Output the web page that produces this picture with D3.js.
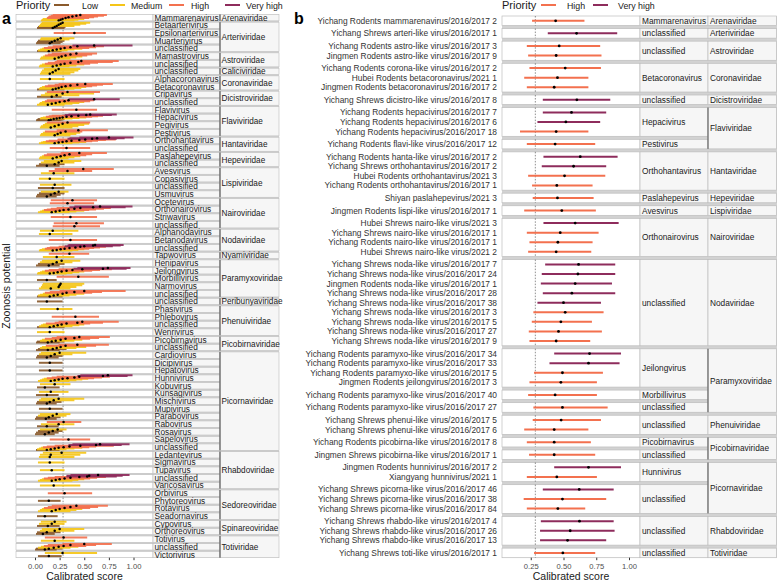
<!DOCTYPE html>
<html>
<head>
<meta charset="utf-8">
<script src="https://cdn.jsdelivr.net/npm/d3@7"></script>
<style>
  body { margin: 0; background: #fff; }
  svg { font-family: "Liberation Sans", Arial, sans-serif; }
</style>
</head>
<body>
<svg width="777" height="582"></svg>
<script>
/* Data */

var priorities = ["Low", "Medium", "High", "Very high"];
var priorityColors = ["#8a5a2c", "#f5c518", "#f3714f", "#8e2c5c"];
var ticks = [0, 0.25, 0.5, 0.75, 1];
var threshold = 0.285;

// panel a: families with their number of genera
var familyA = [
  ["Arenaviridae", 1], ["Arteriviridae", 4], ["Astroviridae", 2], ["Caliciviridae", 1],
  ["Coronaviridae", 2], ["Dicistroviridae", 2], ["Flaviviridae", 4], ["Hantaviridae", 2],
  ["Hepeviridae", 2], ["Lispiviridae", 4], ["Nairoviridae", 4], ["Nodaviridae", 3],
  ["Nyamiviridae", 1], ["Paramyxoviridae", 5], ["Peribunyaviridae", 1], ["Phenuiviridae", 4],
  ["Picobirnaviridae", 2], ["Picornaviridae", 13], ["Rhabdoviridae", 5], ["Sedoreoviridae", 4],
  ["Spinareoviridae", 2], ["Totiviridae", 3]
];

var genusA = [
  "Mammarenavirus", "Betaarterivirus", "Epsilonarterivirus", "Muarterivirus", "unclassified",
  "Mamastrovirus", "unclassified", "unclassified", "Alphacoronavirus", "Betacoronavirus",
  "Cripavirus", "unclassified", "Flavivirus", "Hepacivirus", "Pegivirus", "Pestivirus",
  "Orthohantavirus", "unclassified", "Paslahepevirus", "unclassified", "Avesvirus",
  "Copasivirus", "unclassified", "Usmuvirus", "Ocetevirus", "Orthonairovirus", "Striwavirus",
  "unclassified", "Alphanodavirus", "Betanodavirus", "unclassified", "Tapwovirus",
  "Henipavirus", "Jeilongvirus", "Morbillivirus", "Narmovirus", "unclassified", "unclassified",
  "Phasivirus", "Phlebovirus", "unclassified", "Wenrivirus", "Picobirnavirus", "unclassified",
  "Cardiovirus", "Dicipivirus", "Hepatovirus", "Hunnivirus", "Kobuvirus", "Kunsagivirus",
  "Mischivirus", "Mupivirus", "Parabovirus", "Rabovirus", "Rosavirus", "Sapelovirus",
  "unclassified", "Ledantevirus", "Sigmavirus", "Tupavirus", "unclassified", "Varicosavirus",
  "Orbivirus", "Phytoreovirus", "Rotavirus", "Seadornavirus", "Cypovirus", "Orthoreovirus",
  "Totivirus", "unclassified", "Victorivirus"
];

// per genus: [score, lower, upper, priority]
var scoresA = [
  [[0.24,0.06,0.40,1],[0.26,0.07,0.44,1],[0.28,0.08,0.50,1],[0.31,0.12,0.55,2],[0.34,0.13,0.60,2],[0.38,0.14,0.64,2],[0.42,0.16,0.70,2],[0.46,0.18,0.73,2]],
  [[0.18,0.02,0.30,0],[0.20,0.03,0.31,0],[0.22,0.04,0.40,1],[0.24,0.05,0.46,1],[0.26,0.06,0.52,1],[0.28,0.07,0.56,1]],
  [[0.40,0.19,0.72,2]],
  [[0.15,0.01,0.26,0],[0.17,0.02,0.28,0],[0.20,0.03,0.30,0],[0.23,0.05,0.35,1],[0.26,0.06,0.40,1]],
  [[0.14,0.02,0.27,0],[0.18,0.03,0.33,1],[0.22,0.05,0.40,1],[0.26,0.07,0.48,1],[0.30,0.09,0.55,2],[0.36,0.13,0.62,2],[0.43,0.18,0.70,2],[0.60,0.38,0.99,3]],
  [[0.20,0.05,0.36,1],[0.24,0.06,0.42,1],[0.27,0.08,0.48,1],[0.31,0.10,0.53,2],[0.36,0.13,0.58,2],[0.42,0.17,0.63,2]],
  [[0.18,0.04,0.35,1],[0.22,0.05,0.42,1],[0.26,0.07,0.50,1],[0.30,0.10,0.56,2],[0.36,0.13,0.64,2],[0.44,0.20,0.79,2],[0.47,0.22,0.85,2]],
  [[0.15,0.05,0.36,1],[0.18,0.06,0.40,1],[0.21,0.07,0.44,1],[0.24,0.09,0.46,1]],
  [[0.15,0.05,0.30,1]],
  [[0.18,0.02,0.30,0],[0.21,0.04,0.40,1],[0.24,0.05,0.47,1],[0.27,0.07,0.52,1],[0.31,0.10,0.58,2],[0.36,0.13,0.63,2],[0.43,0.20,0.69,2],[0.51,0.24,0.79,2]],
  [[0.17,0.02,0.27,0],[0.22,0.06,0.45,1],[0.28,0.10,0.60,1],[0.33,0.12,0.66,2]],
  [[0.13,0.02,0.30,1],[0.17,0.04,0.38,1],[0.21,0.05,0.45,1],[0.25,0.07,0.50,1],[0.30,0.10,0.56,2],[0.34,0.12,0.60,2],[0.60,0.34,0.86,3]],
  [[0.42,0.17,0.63,2]],
  [[0.14,0.01,0.26,0],[0.16,0.02,0.28,0],[0.19,0.03,0.30,0],[0.22,0.05,0.38,1],[0.25,0.06,0.45,1],[0.28,0.08,0.52,1],[0.32,0.11,0.58,2],[0.37,0.14,0.64,2],[0.44,0.17,0.69,2],[0.52,0.30,0.78,3],[0.56,0.34,0.83,3]],
  [[0.16,0.05,0.38,1],[0.20,0.06,0.44,1],[0.24,0.08,0.50,1],[0.28,0.10,0.55,1],[0.33,0.12,0.56,2]],
  [[0.20,0.05,0.36,1],[0.23,0.06,0.42,1],[0.26,0.08,0.46,1],[0.31,0.10,0.48,2],[0.44,0.22,0.74,2]],
  [[0.20,0.04,0.38,1],[0.24,0.06,0.45,1],[0.28,0.08,0.52,1],[0.32,0.11,0.58,2],[0.37,0.14,0.64,2],[0.45,0.23,0.72,2],[0.51,0.23,0.82,2],[0.58,0.33,0.83,3],[0.63,0.35,0.91,3],[0.75,0.45,1.00,3]],
  [[0.32,0.15,0.56,2]],
  [[0.18,0.04,0.34,1],[0.22,0.05,0.40,1],[0.26,0.07,0.46,1],[0.30,0.09,0.52,2],[0.35,0.12,0.58,2],[0.45,0.26,0.73,2]],
  [[0.12,0.01,0.25,0],[0.20,0.04,0.30,0],[0.24,0.06,0.40,1],[0.27,0.09,0.47,1]],
  [[0.19,0.06,0.40,1],[0.33,0.14,0.58,2],[0.49,0.20,0.80,2]],
  [[0.15,0.04,0.30,1]],
  [[0.18,0.03,0.30,0],[0.20,0.05,0.37,1]],
  [[0.12,0.01,0.22,0],[0.16,0.02,0.26,0],[0.20,0.04,0.30,0],[0.24,0.06,0.34,1]],
  [[0.33,0.15,0.60,2],[0.38,0.16,0.63,2]],
  [[0.17,0.03,0.35,1],[0.21,0.05,0.42,1],[0.25,0.07,0.50,1],[0.29,0.09,0.55,2],[0.34,0.12,0.62,2],[0.40,0.16,0.70,2],[0.46,0.22,0.77,2],[0.59,0.35,0.92,3],[0.66,0.40,0.99,3]],
  [[0.36,0.16,0.63,2]],
  [[0.40,0.18,0.66,2],[0.42,0.19,0.70,2]],
  [[0.15,0.04,0.38,1],[0.18,0.05,0.44,1]],
  [[0.36,0.14,0.63,2]],
  [[0.18,0.04,0.38,1],[0.22,0.05,0.44,1],[0.26,0.07,0.50,1],[0.30,0.10,0.55,2],[0.35,0.12,0.60,2],[0.41,0.15,0.66,2],[0.46,0.24,0.72,2],[0.50,0.30,0.79,3],[0.59,0.33,0.87,3],[0.61,0.34,0.90,3]],
  [[0.22,0.08,0.40,1],[0.35,0.14,0.55,2]],
  [[0.14,0.01,0.25,0],[0.18,0.03,0.30,0],[0.22,0.05,0.38,1],[0.27,0.07,0.46,1]],
  [[0.15,0.02,0.32,1],[0.19,0.03,0.38,1],[0.23,0.05,0.45,1],[0.27,0.07,0.50,1],[0.32,0.10,0.58,2],[0.38,0.14,0.66,2],[0.48,0.24,0.78,2],[0.69,0.39,0.93,3],[0.74,0.43,0.97,3]],
  [[0.12,0.02,0.22,0],[0.44,0.22,0.75,2]],
  [[0.16,0.04,0.36,1],[0.24,0.06,0.42,1],[0.25,0.07,0.48,1],[0.26,0.08,0.50,1]],
  [[0.15,0.02,0.28,0],[0.19,0.03,0.35,1],[0.23,0.05,0.42,1],[0.28,0.08,0.50,1],[0.32,0.10,0.58,2],[0.40,0.15,0.68,2],[0.50,0.25,0.92,2]],
  [[0.12,0.02,0.28,0]],
  [[0.23,0.05,0.38,1]],
  [[0.41,0.17,0.65,2]],
  [[0.15,0.02,0.30,0],[0.19,0.04,0.38,1],[0.23,0.06,0.45,1],[0.27,0.08,0.50,1],[0.32,0.11,0.56,2],[0.43,0.20,0.69,2],[0.48,0.24,0.85,2]],
  [[0.15,0.02,0.30,1]],
  [[0.13,0.01,0.25,0],[0.17,0.02,0.30,0],[0.21,0.05,0.40,1],[0.26,0.07,0.48,1],[0.31,0.10,0.56,2],[0.40,0.17,0.65,2],[0.45,0.22,0.76,2]],
  [[0.13,0.01,0.25,0],[0.18,0.03,0.32,0],[0.22,0.05,0.42,1],[0.26,0.07,0.52,1],[0.31,0.11,0.62,2],[0.43,0.24,0.75,2]],
  [[0.12,0.01,0.24,0],[0.16,0.02,0.28,0],[0.20,0.04,0.38,1],[0.25,0.06,0.52,1]],
  [[0.15,0.04,0.28,0]],
  [[0.15,0.04,0.28,0]],
  [[0.16,0.03,0.35,1],[0.20,0.05,0.42,1],[0.24,0.07,0.48,1],[0.28,0.09,0.54,1],[0.33,0.12,0.60,2],[0.40,0.17,0.68,2],[0.45,0.22,0.76,2],[0.69,0.43,0.94,3],[0.74,0.46,0.99,3]],
  [[0.10,0.02,0.25,0],[0.20,0.05,0.36,1]],
  [[0.12,0.01,0.24,0],[0.16,0.04,0.34,1]],
  [[0.12,0.01,0.22,0],[0.15,0.02,0.27,0],[0.19,0.04,0.40,1],[0.24,0.06,0.50,1]],
  [[0.15,0.04,0.28,0]],
  [[0.11,0.00,0.22,0],[0.14,0.01,0.26,0],[0.18,0.03,0.32,1],[0.22,0.05,0.36,1]],
  [[0.12,0.02,0.24,0],[0.24,0.06,0.40,1],[0.29,0.12,0.47,2]],
  [[0.10,0.00,0.20,0],[0.14,0.01,0.24,0],[0.18,0.03,0.28,0],[0.23,0.05,0.32,1]],
  [[0.34,0.15,0.56,2]],
  [[0.12,0.01,0.25,0],[0.16,0.02,0.32,1],[0.20,0.04,0.40,1],[0.24,0.06,0.48,1],[0.29,0.08,0.55,2],[0.35,0.12,0.62,2],[0.46,0.20,0.80,2],[0.62,0.34,0.88,3],[0.66,0.38,0.96,3]],
  [[0.15,0.04,0.40,1],[0.16,0.05,0.46,1],[0.27,0.08,0.52,1]],
  [[0.15,0.03,0.30,1]],
  [[0.17,0.05,0.30,1]],
  [[0.17,0.03,0.38,1],[0.21,0.05,0.44,1],[0.25,0.07,0.50,1],[0.30,0.09,0.56,2],[0.36,0.13,0.63,2],[0.45,0.20,0.72,2],[0.53,0.32,0.83,3],[0.55,0.32,0.89,3],[0.64,0.36,0.96,3]],
  [[0.19,0.05,0.46,1]],
  [[0.30,0.13,0.58,2]],
  [[0.14,0.03,0.26,0]],
  [[0.17,0.03,0.36,1],[0.21,0.05,0.42,1],[0.25,0.07,0.48,1],[0.30,0.09,0.56,2],[0.36,0.13,0.64,2],[0.42,0.17,0.74,2]],
  [[0.10,0.02,0.23,0]],
  [[0.13,0.02,0.25,0],[0.17,0.04,0.30,1],[0.20,0.06,0.32,1]],
  [[0.08,0.01,0.20,0],[0.12,0.02,0.26,0],[0.20,0.05,0.40,1],[0.25,0.07,0.50,1]],
  [[0.20,0.06,0.40,1],[0.29,0.10,0.53,2]],
  [[0.10,0.00,0.22,0],[0.14,0.01,0.28,0],[0.19,0.03,0.36,1],[0.24,0.06,0.44,1],[0.29,0.09,0.52,2],[0.36,0.13,0.62,2],[0.50,0.28,0.78,2]],
  [[0.14,0.03,0.27,0],[0.28,0.10,0.63,1]]
];

// panel b: genus panels [genus, family, number of viruses]
var groupsB = [
  ["Mammarenavirus", "Arenaviridae", 1], ["unclassified", "Arteriviridae", 1],
  ["unclassified", "Astroviridae", 2], ["Betacoronavirus", "Coronaviridae", 3],
  ["unclassified", "Dicistroviridae", 1], ["Hepacivirus", "Flaviviridae", 3],
  ["Pestivirus", "Flaviviridae", 1], ["Orthohantavirus", "Hantaviridae", 4],
  ["Paslahepevirus", "Hepeviridae", 1], ["Avesvirus", "Lispiviridae", 1],
  ["Orthonairovirus", "Nairoviridae", 4], ["unclassified", "Nodaviridae", 9],
  ["Jeilongvirus", "Paramyxoviridae", 4], ["Morbillivirus", "Paramyxoviridae", 1],
  ["unclassified", "Paramyxoviridae", 1], ["unclassified", "Phenuiviridae", 2],
  ["Picobirnavirus", "Picobirnaviridae", 1], ["unclassified", "Picobirnaviridae", 1],
  ["Hunnivirus", "Picornaviridae", 2], ["unclassified", "Picornaviridae", 3],
  ["unclassified", "Rhabdoviridae", 3], ["unclassified", "Totiviridae", 1]
];

var virusesB = [
  "Yichang Rodents mammarenavirus/2016/2017 2", "Yichang Shrews arteri-like virus/2016/2017 1",
  "Yichang Rodents astro-like virus/2016/2017 3", "Jingmen Rodents astro-like virus/2016/2017 9",
  "Yichang Rodents corona-like virus/2016/2017 2", "Hubei Rodents betacoronavirus/2021 1",
  "Jingmen Rodents betacoronavirus/2016/2017 2", "Yichang Shrews dicistro-like virus/2016/2017 8",
  "Yichang Rodents hepacivirus/2016/2017 7", "Yichang Rodents hepacivirus/2016/2017 6",
  "Yichang Rodents hepacivirus/2016/2017 18", "Yichang Rodents flavi-like virus/2016/2017 12",
  "Yichang Rodents hanta-like virus/2016/2017 2", "Yichang Shrews orthohantavirus/2016/2017 2",
  "Hubei Rodents orthohantavirus/2021 3", "Yichang Rodents orthohantavirus/2016/2017 1",
  "Shiyan paslahepevirus/2021 3", "Jingmen Rodents lispi-like virus/2016/2017 1",
  "Hubei Shrews nairo-like virus/2021 3", "Yichang Shrews nairo-like virus/2016/2017 1",
  "Yichang Rodents nairo-like virus/2016/2017 1", "Hubei Shrews nairo-like virus/2021 2",
  "Yichang Shrews noda-like virus/2016/2017 7", "Yichang Shrews noda-like virus/2016/2017 24",
  "Jingmen Rodents noda-like virus/2016/2017 1", "Yichang Shrews noda-like virus/2016/2017 28",
  "Yichang Shrews noda-like virus/2016/2017 38", "Yichang Shrews noda-like virus/2016/2017 3",
  "Yichang Shrews noda-like virus/2016/2017 5", "Yichang Shrews noda-like virus/2016/2017 27",
  "Yichang Shrews noda-like virus/2016/2017 9", "Yichang Rodents paramyxo-like virus/2016/2017 34",
  "Yichang Rodents paramyxo-like virus/2016/2017 33", "Yichang Rodents paramyxo-like virus/2016/2017 5",
  "Jingmen Rodents jeilongvirus/2016/2017 3", "Yichang Rodents paramyxo-like virus/2016/2017 40",
  "Yichang Rodents paramyxo-like virus/2016/2017 27", "Yichang Shrews phenui-like virus/2016/2017 5",
  "Yichang Shrews phenui-like virus/2016/2017 6", "Yichang Rodents picobirna-like virus/2016/2017 8",
  "Jingmen Shrews picobirna-like virus/2016/2017 1", "Jingmen Rodents hunnivirus/2016/2017 2",
  "Xiangyang hunnivirus/2021 1", "Yichang Shrews picorna-like virus/2016/2017 46",
  "Yichang Shrews picorna-like virus/2016/2017 38", "Yichang Shrews picorna-like virus/2016/2017 84",
  "Yichang Shrews rhabdo-like virus/2016/2017 4", "Yichang Shrews rhabdo-like virus/2016/2017 26",
  "Yichang Shrews rhabdo-like virus/2016/2017 13", "Yichang Shrews toti-like virus/2016/2017 1"
];

// [score, lower, upper, priority]
var scoresB = [
  [0.44,0.26,0.66,2], [0.60,0.38,0.91,3], [0.467,0.22,0.78,2], [0.444,0.23,0.79,2],
  [0.513,0.24,0.786,2], [0.454,0.20,0.69,2], [0.429,0.22,0.69,2], [0.602,0.342,0.857,3],
  [0.561,0.342,0.826,3], [0.518,0.301,0.78,3], [0.444,0.168,0.69,2], [0.436,0.22,0.742,2],
  [0.628,0.347,0.913,3], [0.577,0.334,0.826,3], [0.508,0.23,0.819,2], [0.449,0.26,0.722,2],
  [0.454,0.265,0.73,2], [0.487,0.20,0.747,2], [0.589,0.347,0.921,3], [0.475,0.22,0.768,2],
  [0.457,0.24,0.722,2], [0.444,0.23,0.712,2], [0.615,0.36,0.895,3], [0.61,0.334,0.895,3],
  [0.589,0.327,0.87,3], [0.564,0.342,0.895,3], [0.50,0.301,0.786,3], [0.513,0.27,0.806,2],
  [0.48,0.258,0.717,2], [0.462,0.235,0.793,2], [0.444,0.24,0.704,2], [0.699,0.429,0.939,3],
  [0.691,0.393,0.928,3], [0.492,0.275,0.801,2], [0.48,0.24,0.755,2], [0.436,0.23,0.755,2],
  [0.492,0.27,0.837,2], [0.482,0.265,0.786,2], [0.429,0.20,0.69,2], [0.429,0.22,0.709,2],
  [0.429,0.237,0.742,2], [0.691,0.429,0.939,3], [0.449,0.22,0.755,2], [0.62,0.342,0.883,3],
  [0.492,0.196,0.826,2], [0.457,0.22,0.666,2], [0.622,0.327,0.883,3], [0.551,0.321,0.89,3],
  [0.531,0.321,0.826,3], [0.495,0.275,0.742,2]
];

/* Setup */

var svg = d3.select("svg");
var color = d3.scaleOrdinal().domain([0, 1, 2, 3]).range(priorityColors);
var stripFill = "#f6f6f6", borderCol = "#bdbdbd", gapFill = "#d2d2d2";

/* Panel a */

var aTop = 14.5, aBottom = 557.7, aGap = 1.3;
var aLeft = 16, aRight = 153, aGenusR = 220, aFamR = 279;
var xa = d3.scaleLinear().domain([0, 1]).range([35, 133.5]);
var aStep = (aBottom - aTop + aGap) / genusA.length, aH = aStep - aGap;

svg.append("rect")
  .attr("x", aLeft).attr("y", aTop)
  .attr("width", aFamR - aLeft).attr("height", aBottom - aTop)
  .attr("fill", gapFill);

var rowsA = svg.append("g").selectAll("g")
  .data(genusA.map((g, i) => ({ genus: g, i: i, y0: aTop + i * aStep, vals: scoresA[i] })))
  .enter().append("g");

rowsA.append("rect")
  .attr("x", aLeft).attr("y", (d) => d.y0)
  .attr("width", aRight - aLeft).attr("height", aH)
  .attr("fill", "#fff").attr("stroke", borderCol).attr("stroke-width", 0.6);

rowsA.append("line")
  .attr("x1", xa(threshold)).attr("x2", xa(threshold))
  .attr("y1", (d) => d.y0).attr("y2", (d) => d.y0 + aH)
  .attr("stroke", "#444").attr("stroke-width", 0.6).attr("stroke-dasharray", "1.5,1.5");

rowsA.append("rect")
  .attr("x", aRight).attr("y", (d) => d.y0)
  .attr("width", aGenusR - aRight).attr("height", aH)
  .attr("fill", stripFill).attr("stroke", borderCol).attr("stroke-width", 0.6);

rowsA.append("text")
  .attr("x", aRight + 1.5).attr("y", (d) => d.y0 + aH / 2)
  .attr("dy", "0.36em")
  .attr("font-size", 8.3).attr("fill", "#1a1a1a")
  .text((d) => d.genus);

rowsA.each(function(d) {
  var n = d.vals.length;
  var y = d3.scaleLinear().domain([0.5, n + 0.5]).range([d.y0 + aH, d.y0]);
  var g = d3.select(this);
  g.selectAll(".ci")
    .data(d.vals)
    .enter().append("line")
    .classed("ci", true)
    .attr("x1", (v) => xa(v[1])).attr("x2", (v) => xa(v[2]))
    .attr("y1", (v, j) => y(j + 1)).attr("y2", (v, j) => y(j + 1))
    .attr("stroke", (v) => color(v[3]))
    .attr("stroke-width", 2)
    .attr("stroke-opacity", 0.92);
  g.selectAll(".pt")
    .data(d.vals)
    .enter().append("circle")
    .classed("pt", true)
    .attr("cx", (v) => xa(v[0]))
    .attr("cy", (v, j) => y(j + 1))
    .attr("r", 1.25)
    .attr("fill", "#000");
});

// family strips of panel a
var famStart = 0;
familyA.forEach((f) => {
  var y0 = aTop + famStart * aStep;
  var y1 = aTop + (famStart + f[1] - 1) * aStep + aH;
  svg.append("rect")
    .attr("x", aGenusR).attr("y", y0)
    .attr("width", aFamR - aGenusR).attr("height", y1 - y0)
    .attr("fill", stripFill).attr("stroke", borderCol).attr("stroke-width", 0.6);
  svg.append("line")
    .attr("x1", aGenusR).attr("x2", aGenusR)
    .attr("y1", y0).attr("y2", y1)
    .attr("stroke", "#333").attr("stroke-width", 0.9);
  svg.append("text")
    .attr("x", aGenusR + 1.5).attr("y", (y0 + y1) / 2)
    .attr("dy", "0.36em")
    .attr("font-size", 8.2).attr("fill", "#1a1a1a")
    .text(f[0]);
  famStart += f[1];
});

var axisA = svg.append("g")
  .attr("transform", "translate(0," + aBottom + ")")
  .call(d3.axisBottom(xa).tickValues(ticks).tickFormat(d3.format(".2f")).tickSize(2.5).tickPadding(3));
axisA.select(".domain").remove();
axisA.selectAll("text").attr("font-size", 7.6).attr("fill", "#4d4d4d").attr("font-family", "Liberation Sans, Arial, sans-serif");
axisA.selectAll("line").attr("stroke", "#333");

svg.append("text")
  .attr("x", (aLeft + aRight) / 2).attr("y", 580)
  .attr("text-anchor", "middle").attr("font-size", 10.5).attr("fill", "#1a1a1a")
  .text("Calibrated score");

svg.append("text")
  .attr("transform", "translate(10," + ((aTop + aBottom) / 2) + ") rotate(-90)")
  .attr("text-anchor", "middle").attr("font-size", 10.5).attr("fill", "#1a1a1a")
  .text("Zoonosis potential");

/* Panel b */

var bTop = 16, bBottom = 557.7, bGap = 3;
var bLeft = 502, bRight = 640, bGenusR = 708, bFamR = 777;
var xb = d3.scaleLinear().domain([0, 1]).range([498, 629]);
var nB = d3.sum(groupsB, (g) => g[2]);
var u = (bBottom - bTop - bGap * (groupsB.length - 1)) / nB;

svg.append("rect")
  .attr("x", bLeft).attr("y", bTop)
  .attr("width", bFamR - bLeft).attr("height", bBottom - bTop)
  .attr("fill", gapFill);

var rowY = [];
var cursor = bTop;
var panelsB = groupsB.map((g) => {
  var p = { genus: g[0], family: g[1], n: g[2], y0: cursor, y1: cursor + g[2] * u };
  for (var k = 0; k < g[2]; k++) rowY.push(cursor + (k + 0.5) * u);
  cursor = p.y1 + bGap;
  return p;
});

var pb = svg.append("g").selectAll("g").data(panelsB).enter().append("g");

pb.append("rect")
  .attr("x", bLeft).attr("y", (d) => d.y0)
  .attr("width", bRight - bLeft).attr("height", (d) => d.y1 - d.y0)
  .attr("fill", "#fff").attr("stroke", borderCol).attr("stroke-width", 0.7);

pb.append("line")
  .attr("x1", xb(threshold)).attr("x2", xb(threshold))
  .attr("y1", (d) => d.y0).attr("y2", (d) => d.y1)
  .attr("stroke", "#444").attr("stroke-width", 0.6).attr("stroke-dasharray", "1.5,1.5");

pb.append("rect")
  .attr("x", bRight).attr("y", (d) => d.y0)
  .attr("width", bGenusR - bRight).attr("height", (d) => d.y1 - d.y0)
  .attr("fill", stripFill).attr("stroke", borderCol).attr("stroke-width", 0.7);

pb.append("text")
  .attr("x", bRight + 2).attr("y", (d) => (d.y0 + d.y1) / 2)
  .attr("dy", "0.36em")
  .attr("font-size", 8.3).attr("fill", "#1a1a1a")
  .text((d) => d.genus);

// family strips of panel b span consecutive genus panels
var fams = [];
panelsB.forEach((p) => {
  var last = fams[fams.length - 1];
  if (last && last.family === p.family) { last.y1 = p.y1; last.count++; }
  else fams.push({ family: p.family, y0: p.y0, y1: p.y1, count: 1 });
});

fams.forEach((f) => {
  svg.append("rect")
    .attr("x", bGenusR).attr("y", f.y0)
    .attr("width", bFamR - bGenusR - 0.5).attr("height", f.y1 - f.y0)
    .attr("fill", stripFill).attr("stroke", borderCol).attr("stroke-width", 0.7);
  if (f.count > 1) {
    svg.append("line")
      .attr("x1", bGenusR).attr("x2", bGenusR)
      .attr("y1", f.y0).attr("y2", f.y1)
      .attr("stroke", "#444").attr("stroke-width", 0.9);
  }
  svg.append("text")
    .attr("x", bGenusR + 2).attr("y", (f.y0 + f.y1) / 2)
    .attr("dy", "0.36em")
    .attr("font-size", 8.3).attr("fill", "#1a1a1a")
    .text(f.family);
});

svg.append("g").selectAll("text")
  .data(virusesB)
  .enter().append("text")
  .attr("x", bLeft - 5).attr("y", (d, i) => rowY[i])
  .attr("dy", "0.36em")
  .attr("text-anchor", "end")
  .attr("font-size", 8.4).attr("fill", "#333")
  .text((d) => d);

svg.append("g").selectAll("line")
  .data(scoresB)
  .enter().append("line")
  .attr("x1", (d) => xb(d[1])).attr("x2", (d) => xb(d[2]))
  .attr("y1", (d, i) => rowY[i]).attr("y2", (d, i) => rowY[i])
  .attr("stroke", (d) => color(d[3]))
  .attr("stroke-width", 2);

svg.append("g").selectAll("circle")
  .data(scoresB)
  .enter().append("circle")
  .attr("cx", (d) => xb(d[0]))
  .attr("cy", (d, i) => rowY[i])
  .attr("r", 1.4)
  .attr("fill", "#000");

var axisB = svg.append("g")
  .attr("transform", "translate(0," + bBottom + ")")
  .call(d3.axisBottom(xb).tickValues(ticks.slice(1)).tickFormat(d3.format(".2f")).tickSize(2.5).tickPadding(3));
axisB.select(".domain").remove();
axisB.selectAll("text").attr("font-size", 7.6).attr("fill", "#4d4d4d").attr("font-family", "Liberation Sans, Arial, sans-serif");
axisB.selectAll("line").attr("stroke", "#333");

svg.append("text")
  .attr("x", (bLeft + bRight) / 2).attr("y", 580)
  .attr("text-anchor", "middle").attr("font-size", 10.5).attr("fill", "#1a1a1a")
  .text("Calibrated score");

/* Legends and panel tags */

var legend = (x0, keys, labels) => {
  svg.append("text")
    .attr("x", x0).attr("y", 9)
    .attr("font-size", 11).attr("fill", "#1a1a1a")
    .text("Priority");
  keys.forEach((k, j) => {
    svg.append("line")
      .attr("x1", labels[j][0]).attr("x2", labels[j][0] + 15)
      .attr("y1", 5).attr("y2", 5)
      .attr("stroke", color(k)).attr("stroke-width", 2);
    svg.append("text")
      .attr("x", labels[j][1]).attr("y", 8.5)
      .attr("font-size", 8.8).attr("fill", "#1a1a1a")
      .text(priorities[k]);
  });
};

legend(16, [0, 1, 2, 3], [[54, 82], [110, 131], [169, 191], [225, 246]]);
legend(502, [2, 3], [[541, 567], [593, 618]]);

svg.append("text").attr("x", 2).attr("y", 24)
  .attr("font-size", 16).attr("font-weight", "bold").text("a");
svg.append("text").attr("x", 294).attr("y", 24)
  .attr("font-size", 16).attr("font-weight", "bold").text("b");
</script>
</body>
</html>
